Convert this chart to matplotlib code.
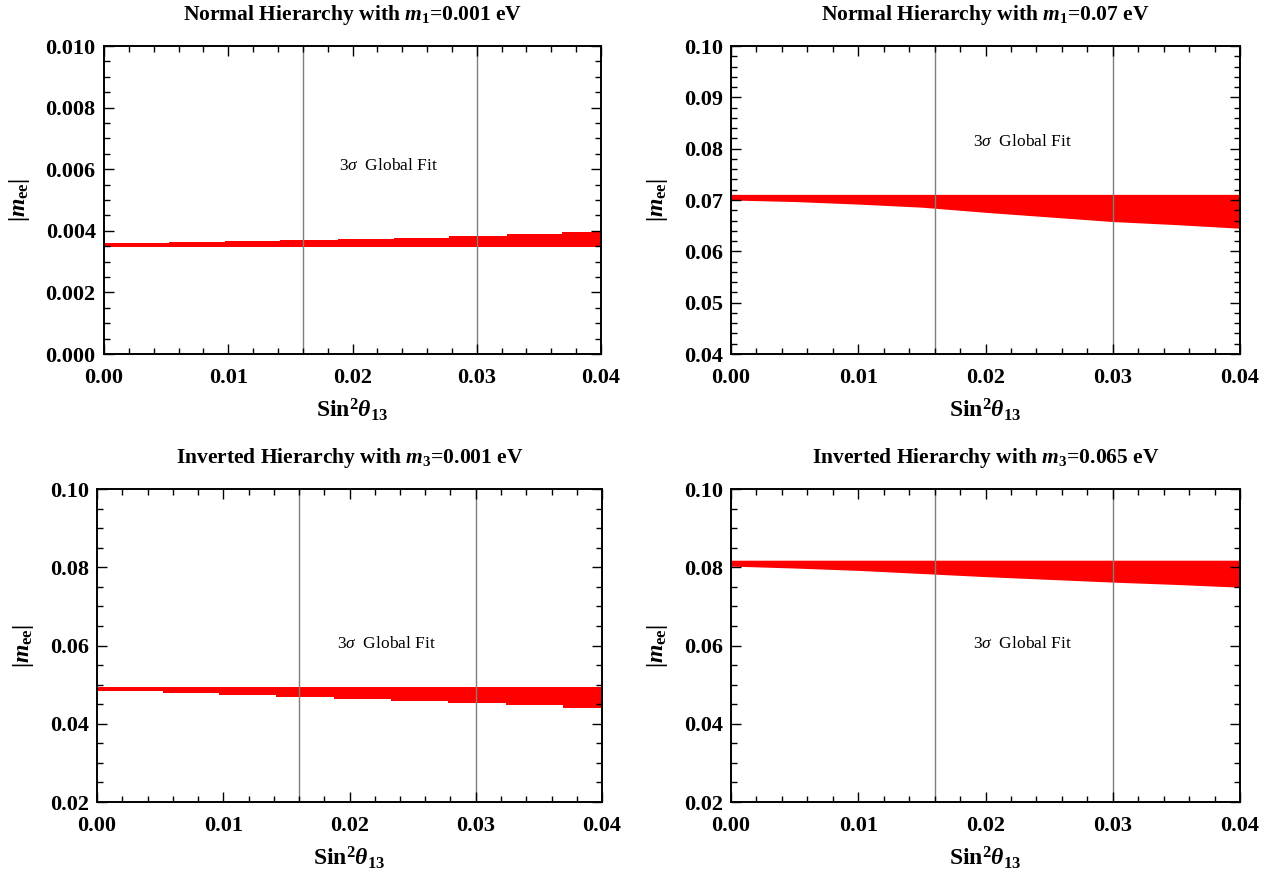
import matplotlib
matplotlib.use("Agg")
import matplotlib.pyplot as plt
from matplotlib.ticker import MultipleLocator, FormatStrFormatter

plt.rcParams['font.family'] = ['Liberation Serif', 'DejaVu Serif']
plt.rcParams['mathtext.fontset'] = 'custom'
plt.rcParams['mathtext.rm'] = 'Liberation Serif:bold'
plt.rcParams['mathtext.it'] = 'Liberation Serif:bold:italic'
plt.rcParams['mathtext.bf'] = 'Liberation Serif:bold'
plt.rcParams['mathtext.sf'] = 'Liberation Serif:italic'

# ---------------- data ----------------
titles = [r"Normal Hierarchy with $m_1$=0.001 eV",
          r"Normal Hierarchy with $m_1$=0.07 eV",
          r"Inverted Hierarchy with $m_3$=0.001 eV",
          r"Inverted Hierarchy with $m_3$=0.065 eV"]

# stepped bands (left panels): step edges in sin^2(theta13)
step_x = [0.0, 0.0052, 0.0097, 0.0142, 0.0188, 0.0233, 0.0278, 0.0324, 0.0369, 0.04]
tl_lower = [0.00348, 0.00348, 0.00348, 0.00348, 0.00348, 0.00348, 0.00348, 0.00348, 0.00348, 0.00348]
tl_upper = [0.00362, 0.00364, 0.00366, 0.00369, 0.00372, 0.00376, 0.00382, 0.00389, 0.00396, 0.00396]
bl_lower = [0.0484, 0.0479, 0.0474, 0.0468, 0.0462, 0.0457, 0.0452, 0.0447, 0.0441, 0.0441]
bl_upper = [0.0494, 0.0494, 0.0494, 0.0494, 0.0494, 0.0494, 0.0494, 0.0494, 0.0494, 0.0494]

# scattered bands (right panels)
band_x = [0.0, 0.005, 0.01, 0.015, 0.02, 0.025, 0.03, 0.035, 0.04]
tr_lower = [0.0700, 0.0697, 0.0692, 0.0686, 0.0676, 0.0667, 0.0658, 0.0652, 0.0645]
tr_upper = [0.0711, 0.0711, 0.0711, 0.0711, 0.0711, 0.0711, 0.0711, 0.0711, 0.0711]
br_lower = [0.0803, 0.0798, 0.0792, 0.0784, 0.0776, 0.0769, 0.0762, 0.0756, 0.0749]
br_upper = [0.0818, 0.0818, 0.0818, 0.0818, 0.0818, 0.0818, 0.0818, 0.0818, 0.0818]

fit_lines = [0.016, 0.030]
fit_label = r"3$\mathsf{\sigma}$  Global Fit"

ylims = [(0.0, 0.010), (0.04, 0.10), (0.02, 0.10), (0.02, 0.10)]
ymajor = [0.002, 0.01, 0.02, 0.02]
yminor = [0.0005, 0.002, 0.005, 0.005]
yfmt = ['%.3f', '%.2f', '%.2f', '%.2f']
text_y = [0.0061, 0.0813, 0.0603, 0.0603]

# ---------------- figure ----------------
W, H = 1273, 877
fig = plt.figure(figsize=(W / 100, H / 100), dpi=100)

def frac(l, t, r, b):
    return [l / W, 1 - b / H, (r - l) / W, (b - t) / H]

rects = [frac(104, 46, 601, 354), frac(731, 46, 1240, 354),
         frac(97, 489, 602, 802), frac(731, 489, 1240, 802)]

axes = [fig.add_axes(r) for r in rects]

for i, ax in enumerate(axes):
    if i == 0:
        ax.fill_between(step_x, tl_lower, tl_upper, step='post', color='#ff0000', lw=0)
    elif i == 2:
        ax.fill_between(step_x, bl_lower, bl_upper, step='post', color='#ff0000', lw=0)
    elif i == 1:
        ax.fill_between(band_x, tr_lower, tr_upper, color='#ff0000', lw=0)
    else:
        ax.fill_between(band_x, br_lower, br_upper, color='#ff0000', lw=0)

    for xv in fit_lines:
        ax.axvline(xv, color='#7f7f7f', lw=1.0, zorder=1)
    ax.text(0.0229, text_y[i], fit_label, fontsize=12.5, ha='center', va='center',
            fontweight='normal')

    ax.set_xlim(0, 0.04)
    ax.set_ylim(*ylims[i])
    ax.xaxis.set_major_locator(MultipleLocator(0.01))
    ax.xaxis.set_minor_locator(MultipleLocator(0.002))
    ax.yaxis.set_major_locator(MultipleLocator(ymajor[i]))
    ax.yaxis.set_minor_locator(MultipleLocator(yminor[i]))
    ax.xaxis.set_major_formatter(FormatStrFormatter('%.2f'))
    ax.yaxis.set_major_formatter(FormatStrFormatter(yfmt[i]))
    ax.tick_params(which='both', direction='in', top=True, right=True,
                   width=1.0, color='black')
    ax.tick_params(which='major', length=7, labelsize=16)
    ax.tick_params(axis='x', which='major', pad=10)
    ax.tick_params(axis='y', which='major', pad=6)
    ax.tick_params(which='minor', length=4)
    for lab in ax.get_xticklabels() + ax.get_yticklabels():
        lab.set_fontweight('bold')
    for s in ax.spines.values():
        s.set_linewidth(1.4)
        s.set_color('black')

    ax.set_title(titles[i], fontsize=15.5, fontweight='bold', pad=19)
    ax.set_xlabel(r"$\mathrm{Sin}^2\theta_{13}$", fontsize=17, labelpad=6)
    ax.set_ylabel(r"$|m_{\mathrm{ee}}|$", fontsize=17, labelpad=10)

fig.savefig("out.png", dpi=100)
